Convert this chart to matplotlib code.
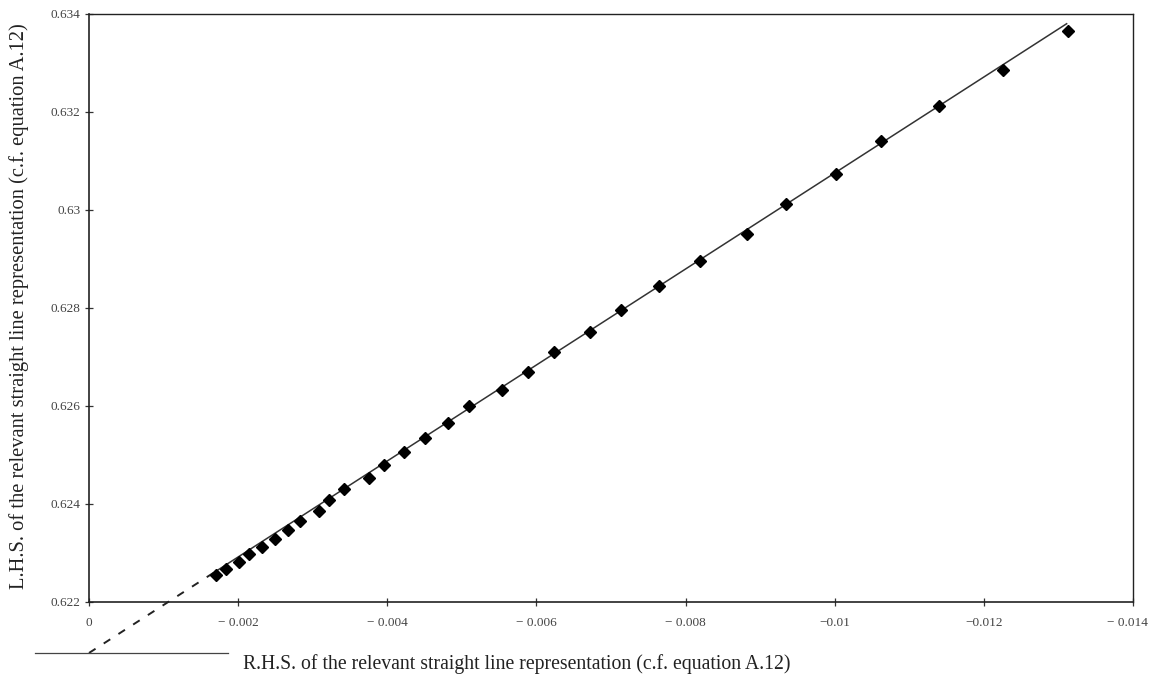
import matplotlib.pyplot as plt
import matplotlib.transforms as mtransforms
import numpy as np

# measured points: R.H.S. (x) against L.H.S. (y) of the straight-line form
rhs = np.array([
    -0.00170, -0.00184, -0.00201, -0.00215, -0.00232, -0.00250, -0.00267,
    -0.00283, -0.00308, -0.00322, -0.00342, -0.00375, -0.00396, -0.00422,
    -0.00451, -0.00482, -0.00509, -0.00554, -0.00589, -0.00624, -0.00672,
    -0.00714, -0.00765, -0.00820, -0.00882, -0.00935, -0.01002, -0.01062,
    -0.01140, -0.01226, -0.01313,
])
lhs = np.array([
    0.62255, 0.62268, 0.62282, 0.62297, 0.62312, 0.62328, 0.62347,
    0.62365, 0.62386, 0.62408, 0.62430, 0.62454, 0.62479, 0.62506,
    0.62535, 0.62566, 0.62599, 0.62633, 0.62670, 0.62710, 0.62752,
    0.62796, 0.62844, 0.62896, 0.62951, 0.63012, 0.63073, 0.63141,
    0.63212, 0.63286, 0.63365,
])

# fitted straight line, y = intercept + slope * (-x)
intercept = 0.62096
slope = 0.9795
fit_solid_x = np.array([-0.00170, -0.01311])
fit_dash_x = np.array([0.0, -0.00170])
base_x = np.array([0.00072, -0.00186])

xticks = [0, -0.002, -0.004, -0.006, -0.008, -0.01, -0.012, -0.014]
xticklabels = ["0", "\u2212 0.002", "\u2212 0.004", "\u2212 0.006", "\u2212 0.008",
               "\u22120.01", "\u22120.012", "\u2212 0.014"]
yticks = [0.622, 0.624, 0.626, 0.628, 0.63, 0.632, 0.634]
yticklabels = ["0.622", "0.624", "0.626", "0.628", "0.63", "0.632", "0.634"]

plt.rcParams["font.family"] = ["Liberation Serif", "DejaVu Serif"]

fig = plt.figure(figsize=(11.51, 6.78), dpi=100)
W, H = 1151, 678
ax = fig.add_axes([89 / W, 1 - 602 / H, (1133 - 89) / W, (602 - 14) / H])

ax.set_xlim(0, -0.014)
ax.set_ylim(0.622, 0.634)

fit = lambda x: intercept + slope * (-x)
ax.plot(fit_solid_x, fit(fit_solid_x), color="#333333", lw=1.1, zorder=2)
ax.plot(fit_dash_x, fit(fit_dash_x), color="#222222", lw=1.4,
        linestyle=(0, (4, 5)), clip_on=False, zorder=2)
ax.plot(rhs, lhs, linestyle="none", marker="D", markersize=6.5,
        color="black", zorder=3)

# short base line beneath the origin where the extrapolation ends
ax.plot(base_x, [fit(0.0)] * 2, color="#444444", lw=0.9, clip_on=False)

ax.set_xticks(xticks)
ax.set_xticklabels(xticklabels)
ax.set_yticks(yticks)
ax.set_yticklabels(yticklabels)
ax.tick_params(direction="inout", length=6, width=0.9, labelsize=9.5,
               labelcolor="#444444", color="#333333")
ax.tick_params(axis="x", pad=8)
ax.tick_params(axis="y", pad=3)

# keep the last x label inside the canvas
last = ax.get_xticklabels()[-1]
last.set_transform(last.get_transform()
                   + mtransforms.ScaledTranslation(-6 / 100, 0, fig.dpi_scale_trans))

for side in ["left", "bottom", "right", "top"]:
    ax.spines[side].set_linewidth(1.2)
    ax.spines[side].set_color("#222222")
ax.spines["top"].set_linewidth(1.0)
ax.spines["right"].set_linewidth(1.0)

fig.text(517 / W, 1 - 664 / H,
         "R.H.S. of the relevant straight line representation (c.f. equation A.12)",
         ha="center", va="center", fontsize=14.2, color="#222222")
fig.text(19 / W, 1 - 306 / H,
         "L.H.S. of the relevant straight line representation (c.f. equation A.12)",
         ha="center", va="center", rotation=90, fontsize=14.8, color="#222222")

fig.savefig("out.png", dpi=100)
